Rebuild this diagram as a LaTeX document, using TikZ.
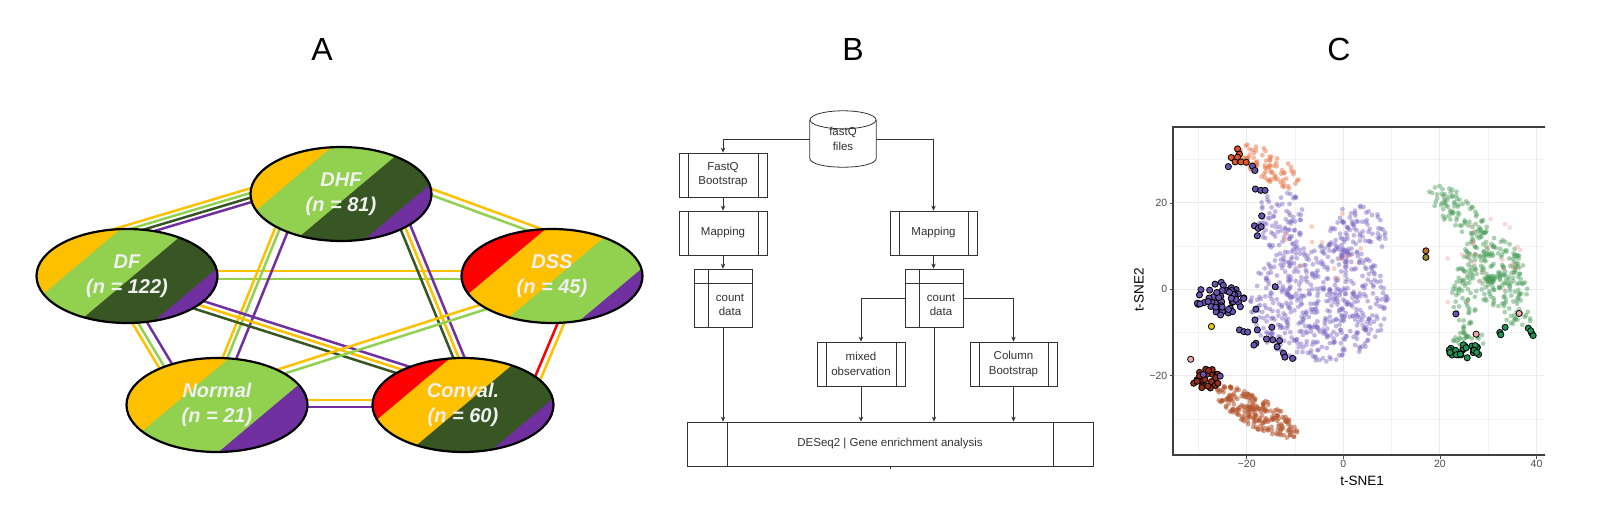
\documentclass[tikz,border=0pt]{standalone}
\usepackage{fontspec}
\setmainfont{Liberation Sans}
\usetikzlibrary{calc,arrows.meta,shapes.geometric,backgrounds}
\definecolor{cOr}{HTML}{FFC000}
\definecolor{cLg}{HTML}{92D050}
\definecolor{cDg}{HTML}{375623}
\definecolor{cPu}{HTML}{7030A0}
\definecolor{cRd}{HTML}{FF0000}
\definecolor{bxc}{HTML}{333333}
\definecolor{cPL}{RGB}{120,100,195}
\definecolor{cOL}{RGB}{232,120,70}
\definecolor{cBL}{RGB}{180,85,45}
\definecolor{cGL}{RGB}{70,155,85}
\definecolor{cPk}{RGB}{240,150,150}
\definecolor{cPD}{RGB}{105,85,175}
\definecolor{cRD}{RGB}{150,45,25}
\definecolor{cOD}{RGB}{225,85,40}
\definecolor{cGD}{RGB}{30,150,80}
\definecolor{cPkD}{RGB}{240,170,170}
\definecolor{cYD}{RGB}{235,200,20}
\definecolor{cBrD}{RGB}{190,110,40}
\definecolor{cOvD}{RGB}{150,140,50}
\newcommand\ellfill[3]{% center, base colour, list k/colour
  \begin{scope}
    \clip (#1) ellipse [x radius=90.5, y radius=47];
    \begin{scope}[shift={(#1)}]
      \fill[#2] (-120,-120) rectangle (120,120);
      \foreach \stK/\stC in {#3}{%
        \fill[\stC] ({\stK*0.643+230},{\stK*0.766-193}) -- ({\stK*0.643-230},{\stK*0.766+193})
          -- ({\stK*0.643-37},{\stK*0.766+423}) -- ({\stK*0.643+423},{\stK*0.766+37}) -- cycle;}
    \end{scope}
  \end{scope}}
\newcommand\lnk[4]{\draw[#4, lk] ($(#1)!#3pt!90:(#2)$) -- ($(#2)!#3pt!-90:(#1)$);}
\newcommand\cloud[8]{%
  \foreach \ci in {1,...,#6}{%
    \pgfmathsetmacro\myrad{sqrt(rnd)}%
    \pgfmathsetmacro\myang{360*rnd}%
    \fill[#7,opacity=#8] ({#1+#3*\myrad*cos(\myang)*cos(#5)-#4*\myrad*sin(\myang)*sin(#5)},{#2+#3*\myrad*cos(\myang)*sin(#5)+#4*\myrad*sin(\myang)*cos(#5)}) circle[radius=2.4pt];}}
\newcommand\cloudo[7]{%
  \foreach \ci in {1,...,#6}{%
    \pgfmathsetmacro\myrad{sqrt(rnd)}%
    \pgfmathsetmacro\myang{360*rnd}%
    \filldraw[op,fill=#7] ({#1+#3*\myrad*cos(\myang)*cos(#5)-#4*\myrad*sin(\myang)*sin(#5)},{#2+#3*\myrad*cos(\myang)*sin(#5)+#4*\myrad*sin(\myang)*cos(#5)}) circle[radius=3.1pt];}}
\begin{document}
\begin{tikzpicture}[x=1pt,y=-1pt,
  grp/.style={ellipse, draw=black, line width=2.2pt, minimum width=181pt, minimum height=94pt,
    inner sep=0pt, font=\bfseries\itshape\fontsize{20}{25}\selectfont, text=white!94!black, align=center},
  lk/.style={line width=2.5pt},
  plab/.style={font=\fontsize{32}{38}\selectfont},
  bx/.style={draw=bxc, line width=0.8pt, rectangle, inner sep=0pt, font=\fontsize{11.5}{14.3}\selectfont, text=black!80, align=center},
  pp/.style={path picture={\draw[bxc, line width=0.8pt]
     ([xshift=#1]path picture bounding box.north west) -- ([xshift=#1]path picture bounding box.south west)
     ([xshift=-#1]path picture bounding box.north east) -- ([xshift=-#1]path picture bounding box.south east);}},
  proc/.style={bx, minimum width=88pt, minimum height=44pt, pp=9pt},
  store/.style={bx, minimum width=58pt, minimum height=58pt, path picture={\draw[bxc, line width=0.8pt]
     ([xshift=14pt]path picture bounding box.north west) -- ([xshift=14pt]path picture bounding box.south west)
     ([yshift=-14pt]path picture bounding box.north west) -- ([yshift=-14pt]path picture bounding box.north east);}},
  txt/.style={font=\fontsize{11.5}{14.3}\selectfont, text=black!80, align=center, inner sep=0pt},
  arr/.style={bxc, line width=0.8pt, -{Stealth[length=5pt,width=4.5pt]}},
  gmaj/.style={draw=black!8, line width=1.1pt},
  gmin/.style={draw=black!5, line width=0.6pt},
  tl/.style={font=\fontsize{10.5}{12}\selectfont, text=black!70, inner sep=1pt},
  op/.style={draw=black, line width=0.8pt}]
\useasboundingbox (0,0) rectangle (1600,532);
% ---------- panel labels
\node[plab] (LA) at (322,49) {A};
\node[plab] (LB) at (853,49) {B};
\node[plab] (LC) at (1339,49) {C};
% ---------- panel A
\coordinate (cDF) at (127,276);
\coordinate (cDHF) at (341,194);
\coordinate (cDSS) at (552,276);
\coordinate (cNOR) at (217,405);
\coordinate (cCON) at (463,405);
\ellfill{cDF}{cOr}{-40/cLg,4/cDg,52/cPu}
\ellfill{cDHF}{cOr}{-42/cLg,6/cDg,50/cPu}
\ellfill{cDSS}{cRd}{-40/cOr,4/cLg,52/cPu}
\ellfill{cNOR}{cOr}{-28/cLg,37/cPu}
\ellfill{cCON}{cRd}{-44/cOr,1/cDg,53/cPu}
\node[grp] (DF) at (cDF) {DF\\(n = 122)};
\node[grp] (DHF) at (cDHF) {DHF\\(n = 81)};
\node[grp] (DSS) at (cDSS) {DSS\\(n = 45)};
\node[grp] (NOR) at (cNOR) {Normal\\(n = 21)};
\node[grp] (CON) at (cCON) {Conval.\\(n = 60)};
\begin{scope}[on background layer]
  \fill[white] (0,0) rectangle (1600,532);
  % DF - DSS
  \coordinate (p1) at ($(DF)+(0,-1)$);   \coordinate (q1) at ($(DSS)+(0,-1)$);
  \lnk{p1}{q1}{4}{cOr} \lnk{p1}{q1}{-4}{cLg}
  % DHF - DSS
  \coordinate (p2) at ($(DHF)+(0,-35)$); \coordinate (q2) at ($(DSS)+(0,-40)$);
  \lnk{p2}{q2}{3}{cOr} \lnk{p2}{q2}{-3}{cLg}
  % DF - DHF
  \coordinate (p3) at ($(DF)+(-27,-36)$); \coordinate (q3) at ($(DHF)+(0,-26)$);
  \lnk{p3}{q3}{6.5}{cOr} \lnk{p3}{q3}{2}{cLg} \lnk{p3}{q3}{-2.5}{cDg} \lnk{p3}{q3}{-7}{cPu}
  % DHF - Normal
  \coordinate (p4) at ($(DHF)+(-48,6)$); \coordinate (q4) at ($(NOR)+(-1,-15)$);
  \lnk{p4}{q4}{-6}{cOr} \lnk{p4}{q4}{-1.5}{cLg} \lnk{p4}{q4}{7}{cPu}
  % DHF - Conval
  \coordinate (p5) at ($(DHF)+(53,6)$); \coordinate (q5) at ($(CON)+(13,-5)$);
  \lnk{p5}{q5}{-5}{cDg} \lnk{p5}{q5}{0}{cOr} \lnk{p5}{q5}{5.5}{cPu}
  % DF - Normal
  \coordinate (p6) at ($(DF)+(-17,4)$); \coordinate (q6) at ($(NOR)+(-35,-5)$);
  \lnk{p6}{q6}{-3}{cOr} \lnk{p6}{q6}{2}{cLg} \lnk{p6}{q6}{10}{cPu}
  % DF - Conval
  \coordinate (p7) at ($(DF)+(0,6)$); \coordinate (q7) at ($(CON)+(0,-16)$);
  \lnk{p7}{q7}{5}{cPu} \lnk{p7}{q7}{0}{cOr} \lnk{p7}{q7}{-5}{cDg}
  % DSS - Normal
  \coordinate (p8) at ($(DSS)+(0,9)$); \coordinate (q8) at ($(NOR)+(0,-13)$);
  \lnk{p8}{q8}{-3}{cOr} \lnk{p8}{q8}{3}{cLg}
  % DSS - Conval
  \coordinate (p9) at ($(DSS)+(23,14)$); \coordinate (q9) at ($(CON)+(57,15)$);
  \lnk{p9}{q9}{-3}{cRd} \lnk{p9}{q9}{3}{cOr}
  % Normal - Conval
  \coordinate (p10) at ($(NOR)+(0,-1.5)$); \coordinate (q10) at ($(CON)+(0,-1.5)$);
  \lnk{p10}{q10}{3.5}{cOr} \lnk{p10}{q10}{-3.5}{cPu}
\end{scope}
% ---------- panel B
\node[txt, minimum width=66pt, minimum height=56pt] (fq) at (843,139) {fastQ\\files};
\draw[bxc, line width=0.8pt] ($(fq.north west)+(0,9)$) -- ($(fq.south west)+(0,-9)$)
   .. controls +(0,12) and +(0,12) .. ($(fq.south east)+(0,-9)$) -- ($(fq.north east)+(0,9)$);
\draw[bxc, line width=0.8pt] ($(fq.north)+(0,9)$) ellipse [x radius=33, y radius=9];
\node[proc] (fqb) at (723,175) {FastQ\\Bootstrap};
\node[proc] (mapL) at (723,233) {Mapping};
\node[store] (cdL) at (723,298) {};
\node[txt] (cdLt) at ($(cdL)+(7,7)$) {count\\data};
\node[proc, minimum width=87pt] (mapR) at (933.5,233) {Mapping};
\node[store] (cdR) at (934,298) {};
\node[txt] (cdRt) at ($(cdR)+(7,7)$) {count\\data};
\node[proc] (mix) at (861,364) {mixed\\observation};
\node[proc, minimum width=87pt] (col) at (1013.5,364) {Column\\Bootstrap};
\node[bx, minimum width=406pt, minimum height=44pt, pp=40pt] (de) at (890,444) {DESeq2 | Gene enrichment analysis};
\draw[arr] (fq.west) -| (fqb.north);
\draw[arr] (fq.east) -| (mapR.north);
\draw[arr] (fqb.south) -- (mapL.north);
\draw[arr] (mapL.south) -- (cdL.north);
\draw[arr] (cdL.south) -- (cdL.south |- de.north);
\draw[arr] (mapR.south) -- (mapR.south |- cdR.north);
\draw[arr] (cdR.west) -| (mix.north);
\draw[arr] (cdR.east) -| (col.north);
\draw[arr] (cdR.south) -- (cdR.south |- de.north);
\draw[arr] (mix.south) -- (mix.south |- de.north);
\draw[arr] (col.south) -- (col.south |- de.north);
\draw[bxc, line width=0.8pt] (de.south) -- ++(0,3);
% ---------- panel C (cropped at the right, as in the figure)
\begin{scope}
\clip (1100,100) rectangle (1545,500);
\foreach \gx in {1198.4,1295,1391.6,1488.2} \draw[gmin] (\gx,127) -- (\gx,455);
\foreach \gy in {159.7,246.1,332.5,418.9} \draw[gmin] (1173,\gy) -- (1560,\gy);
\foreach \gx in {1246.7,1343.3,1439.9,1536.5} \draw[gmaj] (\gx,127) -- (\gx,455);
\foreach \gy in {202.9,289.3,375.7} \draw[gmaj] (1173,\gy) -- (1560,\gy);
\pgfmathsetseed{4242}
\begin{scope}[shift={(1343.3pt,-289.3pt)}, x=4.83pt, y=4.32pt]
  \cloud{-5}{-3}{14.5}{14}{0}{560}{cPL}{.45}
  \cloud{-13}{16}{5}{7}{0}{85}{cPL}{.45}
  \cloud{3}{13}{6}{7}{0}{95}{cPL}{.45}
  \cloud{-3}{10}{10}{8}{0}{12}{cOL}{.35}
  \cloud{-15.5}{28.5}{7.8}{3.2}{-35}{90}{cOL}{.5}
  \cloud{-18}{-28.5}{10}{3.3}{-33}{220}{cBL}{.55}
  \cloud{24}{18}{8}{3.5}{-42}{90}{cGL}{.45}
  \cloud{31}{7}{7}{5}{-40}{130}{cGL}{.45}
  \cloud{33}{0}{5.5}{4}{0}{80}{cGL}{.45}
  \cloud{25}{-2}{2.5}{8}{0}{60}{cGL}{.45}
  \cloud{26}{-11.5}{3.5}{2}{0}{25}{cGL}{.45}
  \cloud{36}{-6.5}{3}{2.5}{0}{20}{cGL}{.45}
  \cloud{29}{6}{8}{12}{-30}{25}{cPk}{.35}
  \cloudo{-25.5}{-2.3}{5}{4}{0}{55}{cPD}
  \cloudo{-28.3}{-21}{3}{2.7}{0}{22}{cRD}
  \cloudo{25.3}{-14.3}{3.5}{1.6}{0}{26}{cGD}
  \foreach \px/\py in {-23.8/28.4,-18.8/28.5,-18.3/27.5,-18.2/23.2,-17.1/22.9,-16.2/22.9,-16.9/17,-18.4/14.7,-17.6/14.1,-17/14.5,-17.8/12.4,-14.1/0.6,-18.1/-4.6,-18.3/-7.1,-17.8/-9.4,-21.5/-9.4,-20.6/-9.8,-19.8/-9.9,-14.8/-8.8,-18.1/-12.5,-18.5/-12.9,-15.9/-11.5,-14.6/-11.7,-13.2/-11.9,-13.7/-13.3,-12.4/-14.8,-12.1/-15.7,-10.5/-16,-29/-19.7,-25.5/-20.1,23.3/-5.7}
    \filldraw[op,fill=cPD] (\px,\py) circle[radius=3.1pt];
  \foreach \px/\py in {-21.9/32.5,-21.5/31.3,-23.2/30.5,-22.4/29.5,-21.2/29.5,-20.1/29.4,-21.9/30.6}
    \filldraw[op,fill=cOD] (\px,\py) circle[radius=3.1pt];
  \foreach \px/\py in {32.4/-10,33.5/-8.8,38.3/-9,39/-10.2,39.3/-10.7,38.8/-9.6,32.6/-10.5}
    \filldraw[op,fill=cGD] (\px,\py) circle[radius=3.1pt];
  \foreach \px/\py in {-31.6/-16.2,36.4/-5.6,27.5/-10.4}
    \filldraw[op,fill=cPkD] (\px,\py) circle[radius=3.1pt];
  \filldraw[op,fill=cYD] (-27.3,-8.6) circle[radius=3.1pt];
  \filldraw[op,fill=cBrD] (17.1,8.9) circle[radius=3.1pt];
  \filldraw[op,fill=cOvD] (17.1,7.4) circle[radius=3.1pt];
\end{scope}
\draw[black!75, line width=1.1pt] (1560,127) -- (1173,127) -- (1173,455) -- (1560,455);
\foreach \v/\lab [count=\n] in {1246.7/−20,1343.3/0,1439.9/20,1536.5/40}{
  \draw[black!70, line width=0.8pt] (\v,455) -- (\v,458.5);
  \node[tl, anchor=north] (xt\n) at (\v,459) {\lab};}
\foreach \v/\lab [count=\n] in {202.9/20,289.3/0,375.7/−20}{
  \draw[black!70, line width=0.8pt] (1173,\v) -- (1169.5,\v);
  \node[tl, anchor=east] (yt\n) at (1168.5,\v) {\lab};}
\end{scope}
\node[font=\fontsize{13.5}{16}\selectfont] (xlab) at (1362,481) {t-SNE1};
\node[font=\fontsize{13.5}{16}\selectfont, rotate=90] (ylab) at (1139,290) {t-SNE2};
\end{tikzpicture}
\end{document}
